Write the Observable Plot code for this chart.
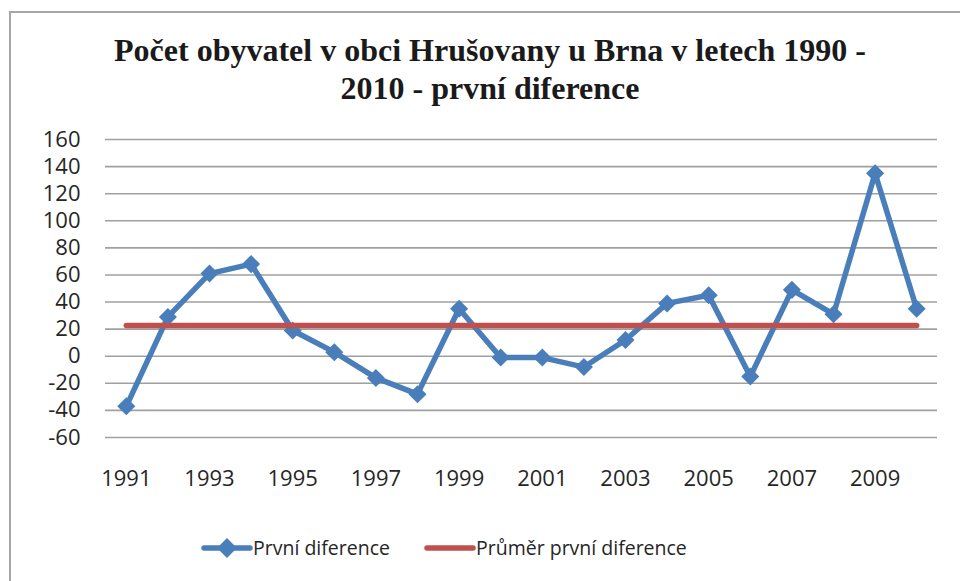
<!DOCTYPE html>
<html>
<head>
<meta charset="utf-8">
<script src="https://cdn.jsdelivr.net/npm/d3@7"></script>
<script src="https://cdn.jsdelivr.net/npm/@observablehq/plot@0.6"></script>
<style>
  html, body { margin: 0; padding: 0; background: #fff; }
  body { width: 960px; height: 581px; overflow: hidden; position: relative; }
  #frame { position: absolute; left: 9px; top: 11px; width: 1200px; height: 900px; border: 2px solid #a6a6a6; }
  #title { position: absolute; left: 10px; top: 31px; width: 960px; text-align: center;
           font-family: "Liberation Serif", serif; font-weight: bold; font-size: 32px; line-height: 38px; color: #1a1a1a; }
  #chart { position: absolute; left: 0; top: 120px; }
  .leg { position: absolute; top: 535px; font-family: "Open Sans", sans-serif; font-size: 19.5px; color: #262626; line-height: 26px; white-space: nowrap; }
  .sw { position: absolute; top: 538px; }
</style>
</head>
<body>
<div id="frame"></div>
<div id="title">Počet obyvatel v obci Hrušovany u Brna v letech 1990 -<br>2010 - první diference</div>
<div id="chart"></div>
<svg class="sw" style="left:200px" width="54" height="20"><line x1="4" y1="10" x2="50" y2="10" stroke="#4a7ebb" stroke-width="5.5" stroke-linecap="round"/><rect x="20" y="3" width="14" height="14" fill="#4a7ebb" transform="rotate(45 27 10)"/></svg>
<div class="leg" style="left:253px">První diference</div>
<svg class="sw" style="left:423px" width="54" height="20"><line x1="4" y1="10" x2="50" y2="10" stroke="#c0504d" stroke-width="5.5" stroke-linecap="round"/></svg>
<div class="leg" style="left:476px">Průměr první diference</div>
<script>
const years = [1991, 1992, 1993, 1994, 1995, 1996, 1997, 1998, 1999, 2000,
               2001, 2002, 2003, 2004, 2005, 2006, 2007, 2008, 2009, 2010];
const values = [-37, 29, 61, 68, 19, 3, -16, -28, 35, -1,
                -1, -8, 12, 39, 45, -15, 49, 31, 135, 35];
const xTickLabels = [1991, 1993, 1995, 1997, 1999, 2001, 2003, 2005, 2007, 2009];
const yTicks = [-60, -40, -20, 0, 20, 40, 60, 80, 100, 120, 140, 160];

const meanValue = d3.mean(values);
const data = years.map((year, i) => ({year, value: values[i]}));
const meanData = years.map(year => ({year, value: meanValue}));

const chart = Plot.plot({
  width: 960,
  height: 380,
  marginTop: 19,
  marginBottom: 63,
  marginLeft: 105,
  marginRight: 23,
  style: {fontFamily: "Open Sans, sans-serif", fontSize: "22px", color: "#262626", background: "transparent", overflow: "visible"},
  x: {type: "point", domain: years, padding: 0.5, round: false, label: null},
  y: {domain: [-60, 160], label: null},
  marks: [
    Plot.ruleY(yTicks, {stroke: "#a0a0a0", strokeWidth: 1.6}),
    Plot.axisY(yTicks, {tickSize: 0, tickPadding: 25, fill: "#262626", fontSize: 22, label: null, tickFormat: d => String(d)}),
    Plot.axisX(xTickLabels, {tickSize: 0, tickPadding: 33, fill: "#262626", fontSize: 22, label: null, tickFormat: d => String(d)}),
    Plot.line(data, {x: "year", y: "value", stroke: "#4a7ebb", strokeWidth: 5.5, strokeLinecap: "round", strokeLinejoin: "round"}),
    Plot.dot(data, {x: "year", y: "value", symbol: "square", r: 7.2, fill: "#4a7ebb", rotate: 45}),
    Plot.line(meanData, {x: "year", y: "value", stroke: "#c0504d", strokeWidth: 5.5, strokeLinecap: "round"})
  ]
});
document.getElementById("chart").appendChild(chart);
</script>
</body>
</html>
